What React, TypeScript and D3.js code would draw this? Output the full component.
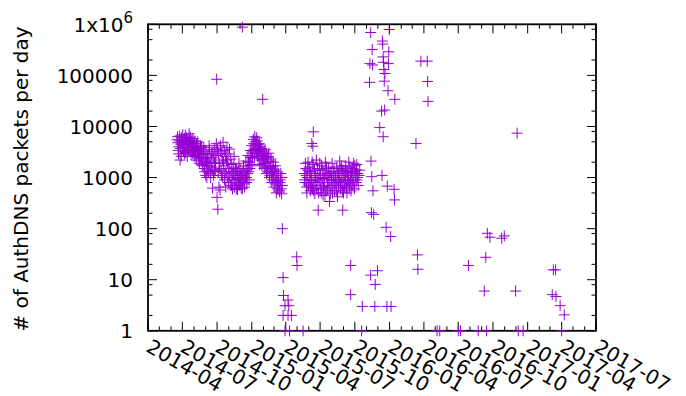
import React from "react";
import * as d3 from "d3";

const W = 686;
const H = 396;
const PLOT_LEFT = 148;
const PLOT_RIGHT = 596;
const PLOT_TOP = 24.3;
const PLOT_BOTTOM = 330.8;

const xDomain = ["2014-04-01", "2017-07-01"];
const xTickLabels = [
  "2014-04", "2014-07", "2014-10", "2015-01", "2015-04", "2015-07", "2015-10",
  "2016-01", "2016-04", "2016-07", "2016-10", "2017-01", "2017-04", "2017-07",
];
const yTickValues = [1, 10, 100, 1000, 10000, 100000, 1000000];
const yTickLabels = ["1", "10", "100", "1000", "10000", "100000", "1x10^6"];
const yMinorMultipliers = [2, 5, 8];
const yLabel = "# of AuthDNS packets per day";

// First dense period (2014-06 .. 2015-03)
const clusterA: [string, number][] = [
  ["2014-06-17", 5500], ["2014-06-19", 4800], ["2014-06-21", 2900], ["2014-06-23", 5200], ["2014-06-25", 2200], ["2014-06-27", 4500], ["2014-06-29", 6000],
  ["2014-07-01", 3800], ["2014-07-03", 5000], ["2014-07-05", 4200], ["2014-07-07", 2900], ["2014-07-09", 6800], ["2014-07-11", 4400], ["2014-07-13", 5300], ["2014-07-15", 3600],
  ["2014-07-17", 4800], ["2014-07-19", 7200], ["2014-07-21", 3900], ["2014-07-23", 5000], ["2014-07-25", 3300], ["2014-07-27", 4300], ["2014-07-29", 5800], ["2014-07-31", 3500],
  ["2014-08-02", 4100], ["2014-08-04", 2700], ["2014-08-06", 3800], ["2014-08-08", 4600], ["2014-08-10", 3000], ["2014-08-12", 3500], ["2014-08-14", 2400], ["2014-08-16", 3200],
  ["2014-08-18", 4200], ["2014-08-20", 2100], ["2014-08-22", 2800], ["2014-08-24", 1800], ["2014-08-26", 3300], ["2014-08-28", 1500], ["2014-08-30", 2500],
  ["2014-09-01", 1100], ["2014-09-03", 2000], ["2014-09-05", 1400], ["2014-09-07", 2800], ["2014-09-09", 1700], ["2014-09-11", 3500], ["2014-09-13", 1200], ["2014-09-15", 2200],
  ["2014-09-17", 1600], ["2014-09-19", 620], ["2014-09-21", 2500], ["2014-09-23", 1300], ["2014-09-25", 3800], ["2014-09-27", 1900], ["2014-09-29", 4600],
  ["2014-10-01", 410], ["2014-10-03", 240], ["2014-10-05", 2900], ["2014-10-07", 1500], ["2014-10-09", 570], ["2014-10-11", 3300], ["2014-10-13", 1100], ["2014-10-15", 2200],
  ["2014-10-17", 4900], ["2014-10-19", 1700], ["2014-10-21", 900], ["2014-10-23", 2600], ["2014-10-25", 1300], ["2014-10-27", 3900], ["2014-10-29", 1900], ["2014-10-31", 800],
  ["2014-11-02", 1500], ["2014-11-04", 1000], ["2014-11-06", 2300], ["2014-11-08", 700], ["2014-11-10", 1200], ["2014-11-12", 900], ["2014-11-14", 1600], ["2014-11-16", 650],
  ["2014-11-18", 1100], ["2014-11-20", 800], ["2014-11-22", 1400], ["2014-11-24", 580], ["2014-11-26", 950], ["2014-11-28", 1900], ["2014-11-30", 700],
  ["2014-12-02", 1000], ["2014-12-04", 620], ["2014-12-06", 1300], ["2014-12-08", 850], ["2014-12-10", 1700], ["2014-12-12", 750], ["2014-12-14", 1200], ["2014-12-16", 2100],
  ["2014-12-18", 1000], ["2014-12-20", 1500], ["2014-12-22", 2700], ["2014-12-24", 1300], ["2014-12-26", 2000], ["2014-12-28", 3400], ["2014-12-30", 1700],
  ["2015-01-01", 4200], ["2015-01-03", 2500], ["2015-01-05", 5600], ["2015-01-07", 3600], ["2015-01-09", 6300], ["2015-01-11", 4500], ["2015-01-13", 3000], ["2015-01-15", 5200],
  ["2015-01-17", 3800], ["2015-01-19", 2600], ["2015-01-21", 4600], ["2015-01-23", 3200], ["2015-01-25", 2200], ["2015-01-27", 3700], ["2015-01-29", 2700], ["2015-01-31", 1900],
  ["2015-02-02", 3300], ["2015-02-04", 2400], ["2015-02-06", 1600], ["2015-02-08", 2900], ["2015-02-10", 2000], ["2015-02-12", 1300], ["2015-02-14", 2600], ["2015-02-16", 1500],
  ["2015-02-18", 1100], ["2015-02-20", 2100], ["2015-02-22", 1300], ["2015-02-24", 900], ["2015-02-26", 1700], ["2015-02-28", 1000],
  ["2015-03-02", 1400], ["2015-03-04", 750], ["2015-03-06", 1200], ["2015-03-08", 850], ["2015-03-10", 600], ["2015-03-12", 1000], ["2015-03-14", 700], ["2015-03-16", 520],
  ["2015-03-18", 900], ["2015-03-20", 600], ["2015-03-22", 1000],
];

// Remaining days of the first dense period
const clusterAOddDays: [string, number][] = [
  ["2014-06-18", 6300], ["2014-06-20", 3400], ["2014-06-22", 4000], ["2014-06-24", 6500], ["2014-06-26", 3700], ["2014-06-28", 2600], ["2014-06-30", 5400],
  ["2014-07-02", 6900], ["2014-07-04", 3200], ["2014-07-06", 5600], ["2014-07-08", 4600], ["2014-07-10", 3100], ["2014-07-12", 6000], ["2014-07-14", 2600], ["2014-07-16", 5200],
  ["2014-07-18", 3400], ["2014-07-20", 4500], ["2014-07-22", 6200], ["2014-07-24", 2800], ["2014-07-26", 5400], ["2014-07-28", 3000], ["2014-07-30", 4700],
  ["2014-08-01", 2600], ["2014-08-03", 5200], ["2014-08-05", 3300], ["2014-08-07", 2200], ["2014-08-09", 3900], ["2014-08-11", 5000], ["2014-08-13", 2900], ["2014-08-15", 1900],
  ["2014-08-17", 3700], ["2014-08-19", 2500], ["2014-08-21", 4000], ["2014-08-23", 1700], ["2014-08-25", 2300], ["2014-08-27", 3900], ["2014-08-29", 1300], ["2014-08-31", 2000],
  ["2014-09-02", 3000], ["2014-09-04", 1000], ["2014-09-06", 2400], ["2014-09-08", 1300], ["2014-09-10", 4200], ["2014-09-12", 1900], ["2014-09-14", 1000], ["2014-09-16", 2900],
  ["2014-09-18", 1400], ["2014-09-20", 3200], ["2014-09-22", 1100], ["2014-09-24", 2000], ["2014-09-26", 1400], ["2014-09-28", 2700],
  ["2014-10-02", 3600], ["2014-10-04", 1300], ["2014-10-06", 650], ["2014-10-08", 1900], ["2014-10-10", 4200], ["2014-10-12", 1400], ["2014-10-14", 3000], ["2014-10-16", 1000],
  ["2014-10-18", 2000], ["2014-10-20", 3400], ["2014-10-22", 1200], ["2014-10-24", 650], ["2014-10-26", 2200], ["2014-10-28", 1000], ["2014-10-30", 2900],
  ["2014-11-01", 1200], ["2014-11-03", 3600], ["2014-11-05", 700], ["2014-11-07", 1300], ["2014-11-09", 1800], ["2014-11-11", 600], ["2014-11-13", 1200], ["2014-11-15", 2600],
  ["2014-11-17", 900], ["2014-11-19", 1500], ["2014-11-21", 600], ["2014-11-23", 1000], ["2014-11-25", 1300], ["2014-11-27", 750], ["2014-11-29", 1100],
  ["2014-12-01", 1500], ["2014-12-03", 800], ["2014-12-05", 1100], ["2014-12-07", 600], ["2014-12-09", 950], ["2014-12-11", 1300], ["2014-12-13", 650], ["2014-12-15", 1000],
  ["2014-12-17", 1400], ["2014-12-19", 800], ["2014-12-21", 1200], ["2014-12-23", 2000], ["2014-12-25", 900], ["2014-12-27", 1500], ["2014-12-29", 2500], ["2014-12-31", 3000],
  ["2015-01-02", 1800], ["2015-01-04", 3300], ["2015-01-06", 4600], ["2015-01-08", 2400], ["2015-01-10", 5000], ["2015-01-12", 3400], ["2015-01-14", 6000], ["2015-01-16", 2600],
  ["2015-01-18", 4400], ["2015-01-20", 3500], ["2015-01-22", 1800], ["2015-01-24", 4000], ["2015-01-26", 2900], ["2015-01-28", 1700], ["2015-01-30", 3000],
  ["2015-02-01", 2300], ["2015-02-03", 1500], ["2015-02-05", 3500], ["2015-02-07", 1900], ["2015-02-09", 1200], ["2015-02-11", 2500], ["2015-02-13", 1700], ["2015-02-15", 3000],
  ["2015-02-17", 1000], ["2015-02-19", 1600], ["2015-02-21", 2300], ["2015-02-23", 800], ["2015-02-25", 1300], ["2015-02-27", 2000],
  ["2015-03-01", 650], ["2015-03-03", 1100], ["2015-03-05", 1700], ["2015-03-07", 500], ["2015-03-09", 1300], ["2015-03-11", 800], ["2015-03-13", 1200], ["2015-03-15", 550],
  ["2015-03-17", 800], ["2015-03-19", 1200], ["2015-03-21", 480], ["2015-03-23", 700],
];

// Second dense period (2015-05 .. 2015-10)
const clusterC: [string, number][] = [
  ["2015-05-20", 1200], ["2015-05-22", 800], ["2015-05-24", 1500], ["2015-05-26", 650], ["2015-05-28", 1000], ["2015-05-30", 2000],
  ["2015-06-01", 700], ["2015-06-03", 1300], ["2015-06-05", 550], ["2015-06-07", 900], ["2015-06-09", 1100], ["2015-06-11", 600], ["2015-06-13", 1800], ["2015-06-15", 850],
  ["2015-06-17", 480], ["2015-06-19", 1200], ["2015-06-21", 2200], ["2015-06-23", 700], ["2015-06-25", 1000], ["2015-06-27", 500], ["2015-06-29", 1400],
  ["2015-07-01", 800], ["2015-07-03", 600], ["2015-07-05", 1700], ["2015-07-07", 950], ["2015-07-09", 450], ["2015-07-11", 1200], ["2015-07-13", 700], ["2015-07-15", 2000],
  ["2015-07-17", 550], ["2015-07-19", 1000], ["2015-07-21", 800], ["2015-07-23", 1500], ["2015-07-25", 650], ["2015-07-27", 1100], ["2015-07-29", 480], ["2015-07-31", 900],
  ["2015-08-02", 1900], ["2015-08-04", 700], ["2015-08-06", 1300], ["2015-08-08", 550], ["2015-08-10", 1000], ["2015-08-12", 750], ["2015-08-14", 1600], ["2015-08-16", 420],
  ["2015-08-18", 1200], ["2015-08-20", 850], ["2015-08-22", 2100], ["2015-08-24", 600], ["2015-08-26", 1000], ["2015-08-28", 700], ["2015-08-30", 1400],
  ["2015-09-01", 500], ["2015-09-03", 1100], ["2015-09-05", 800], ["2015-09-07", 1700], ["2015-09-09", 650], ["2015-09-11", 1300], ["2015-09-13", 900], ["2015-09-15", 2000],
  ["2015-09-17", 750], ["2015-09-19", 1200], ["2015-09-21", 550], ["2015-09-23", 1000], ["2015-09-25", 1500], ["2015-09-27", 800], ["2015-09-29", 1300],
  ["2015-10-01", 1700], ["2015-10-03", 1000], ["2015-10-05", 1400], ["2015-10-07", 900], ["2015-10-09", 1200], ["2015-10-12", 1100], ["2015-10-14", 1400],
];

// Remaining days of the second dense period
const clusterCOddDays: [string, number][] = [
  ["2015-05-21", 900], ["2015-05-23", 1900], ["2015-05-25", 1100], ["2015-05-27", 500], ["2015-05-29", 1400], ["2015-05-31", 750],
  ["2015-06-02", 1600], ["2015-06-04", 900], ["2015-06-06", 1300], ["2015-06-08", 650], ["2015-06-10", 2000], ["2015-06-14", 550], ["2015-06-16", 1400],
  ["2015-06-18", 800], ["2015-06-20", 1000], ["2015-06-22", 600], ["2015-06-24", 1500], ["2015-06-28", 900], ["2015-06-30", 1900],
  ["2015-07-02", 1100], ["2015-07-04", 500], ["2015-07-06", 800], ["2015-07-08", 1400], ["2015-07-10", 650], ["2015-07-12", 1000], ["2015-07-14", 450], ["2015-07-16", 1200],
  ["2015-07-18", 1600], ["2015-07-20", 600], ["2015-07-22", 1100], ["2015-07-24", 900], ["2015-07-28", 1300], ["2015-07-30", 700],
  ["2015-08-01", 1200], ["2015-08-03", 500], ["2015-08-05", 1000], ["2015-08-07", 1500], ["2015-08-09", 800], ["2015-08-11", 1100], ["2015-08-13", 550], ["2015-08-15", 900],
  ["2015-08-17", 1300], ["2015-08-19", 650], ["2015-08-21", 1000], ["2015-08-23", 1500], ["2015-08-25", 800], ["2015-08-27", 1700], ["2015-08-29", 550], ["2015-08-31", 900],
  ["2015-09-02", 1400], ["2015-09-04", 650], ["2015-09-06", 1000], ["2015-09-08", 1300], ["2015-09-10", 500], ["2015-09-12", 900], ["2015-09-14", 1100], ["2015-09-16", 600],
  ["2015-09-18", 1600], ["2015-09-20", 850], ["2015-09-22", 1300], ["2015-09-24", 700], ["2015-09-26", 1100], ["2015-09-28", 1900], ["2015-09-30", 600],
  ["2015-10-02", 1200], ["2015-10-04", 800], ["2015-10-06", 1800], ["2015-10-08", 1000], ["2015-10-10", 700],
];

// Isolated observations
const scattered: [string, number][] = [
  ["2014-09-30", 84000], ["2014-12-07", 880000], ["2015-01-30", 34000],
  ["2015-03-23", 100], ["2015-03-25", 11], ["2015-03-26", 4.9], ["2015-04-07", 4], ["2015-03-30", 3.1], ["2015-04-09", 3.1],
  ["2015-03-25", 2], ["2015-04-07", 2], ["2015-04-16", 2], ["2015-03-30", 1], ["2015-04-11", 1],
  ["2015-04-30", 28], ["2015-05-01", 19], ["2015-05-17", 1],
  ["2015-06-13", 7850], ["2015-06-09", 4650], ["2015-06-12", 4100],
  ["2015-06-26", 230], ["2015-07-26", 340], ["2015-08-30", 230],
  ["2015-09-20", 19], ["2015-09-20", 5.1],
  ["2015-10-19", 1], ["2015-10-21", 3], ["2015-11-23", 3], ["2015-12-25", 3], ["2016-01-05", 3],
  ["2015-11-12", 12.3], ["2015-11-30", 15], ["2015-11-24", 8.1],
  ["2015-11-14", 205], ["2015-11-20", 190], ["2015-12-23", 106], ["2016-01-04", 70],
  ["2016-03-15", 30.6], ["2016-03-16", 16], ["2016-03-11", 4650],
  ["2015-11-12", 690000], ["2015-12-31", 790000], ["2015-12-13", 470000], ["2015-12-14", 410000],
  ["2015-11-16", 320000], ["2015-12-30", 290000], ["2015-12-15", 230000], ["2015-11-10", 170000],
  ["2015-11-17", 160000], ["2015-12-16", 180000], ["2015-12-29", 170000], ["2015-12-17", 130000],
  ["2015-12-20", 109000], ["2015-11-09", 73000], ["2015-12-18", 77000], ["2015-12-28", 50000],
  ["2016-01-15", 34000], ["2015-12-11", 20000], ["2015-12-19", 21000], ["2015-12-06", 9500], ["2015-12-15", 6300],
  ["2016-03-24", 190000], ["2016-04-10", 190000], ["2016-04-11", 76000], ["2016-04-12", 31000],
  ["2015-11-13", 2100], ["2015-11-15", 1040], ["2015-12-12", 1100], ["2015-11-18", 550],
  ["2015-12-26", 680], ["2016-01-13", 590], ["2016-01-14", 365],
  ["2016-05-06", 1], ["2016-05-13", 1], ["2016-07-01", 1], ["2016-07-07", 1], ["2016-08-23", 1],
  ["2016-09-14", 1], ["2016-12-07", 1], ["2016-12-20", 1], ["2017-04-01", 1],
  ["2016-09-16", 81], ["2016-09-23", 68], ["2016-10-24", 65], ["2016-10-31", 72],
  ["2016-07-28", 19], ["2016-09-12", 27.5], ["2016-09-08", 6], ["2016-11-30", 6], ["2016-12-04", 7400],
  ["2017-03-10", 15.6], ["2017-03-16", 15.6], ["2017-03-07", 5.1], ["2017-03-17", 4.7],
  ["2017-03-28", 3.1], ["2017-04-08", 2.05],
];

const parse = d3.utcParse("%Y-%m-%d");
const parseMonth = d3.utcParse("%Y-%m");

export default function App() {
  const x = d3
    .scaleUtc()
    .domain(xDomain.map((d) => parse(d) as Date))
    .range([PLOT_LEFT, PLOT_RIGHT]);
  const y = d3.scaleLog().domain([1, 1e6]).range([PLOT_BOTTOM, PLOT_TOP]);

  const majorDates = xTickLabels.map((l) => parseMonth(l) as Date);
  const allMonths = d3.utcMonth.range(x.domain()[0], d3.utcDay.offset(x.domain()[1], 1));
  const minorDates = allMonths.filter((d) => d.getUTCMonth() % 3 !== 0);

  const minorY: number[] = [];
  for (let k = 0; k < 6; k++) {
    for (const m of yMinorMultipliers) minorY.push(m * Math.pow(10, k));
  }

  const points = [...clusterA, ...clusterAOddDays, ...clusterC, ...clusterCOddDays, ...scattered];
  const s = 5.5;
  const markerPath = points
    .map(([d, v]) => {
      const px = x(parse(d) as Date);
      const py = y(v);
      return `M${px - s},${py}H${px + s}M${px},${py - s}V${py + s}`;
    })
    .join("");

  const MAJ = 9;
  const MIN = 4.5;
  const font = "'DejaVu Sans', sans-serif";

  return (
    <svg
      width={W}
      height={H}
      style={{ position: "absolute", left: 0, top: 0, background: "#fff" }}
      fontFamily={font}
    >
      <rect x={0} y={0} width={W} height={H} fill="#fff" />
      <g stroke="#000" strokeWidth={1}>
        {majorDates.map((d, i) => {
          const px = x(d);
          return (
            <g key={"mx" + i}>
              <line x1={px} x2={px} y1={PLOT_BOTTOM} y2={PLOT_BOTTOM - MAJ} />
              <line x1={px} x2={px} y1={PLOT_TOP} y2={PLOT_TOP + MAJ} />
            </g>
          );
        })}
        {minorDates.map((d, i) => {
          const px = x(d);
          return (
            <g key={"nx" + i}>
              <line x1={px} x2={px} y1={PLOT_BOTTOM} y2={PLOT_BOTTOM - MIN} />
              <line x1={px} x2={px} y1={PLOT_TOP} y2={PLOT_TOP + MIN} />
            </g>
          );
        })}
        {yTickValues.map((v, i) => {
          const py = y(v);
          return (
            <g key={"my" + i}>
              <line x1={PLOT_LEFT} x2={PLOT_LEFT + MAJ} y1={py} y2={py} />
              <line x1={PLOT_RIGHT} x2={PLOT_RIGHT - MAJ} y1={py} y2={py} />
            </g>
          );
        })}
        {minorY.map((v, i) => {
          const py = y(v);
          return (
            <g key={"ny" + i}>
              <line x1={PLOT_LEFT} x2={PLOT_LEFT + MIN} y1={py} y2={py} />
              <line x1={PLOT_RIGHT} x2={PLOT_RIGHT - MIN} y1={py} y2={py} />
            </g>
          );
        })}
      </g>
      <rect
        x={PLOT_LEFT}
        y={PLOT_TOP}
        width={PLOT_RIGHT - PLOT_LEFT}
        height={PLOT_BOTTOM - PLOT_TOP}
        fill="none"
        stroke="#000"
        strokeWidth={1.8}
      />
      <g fontSize={20} fill="#000" textAnchor="end">
        {yTickValues.map((v, i) => {
          const label = yTickLabels[i];
          const py = y(v) + 7.5;
          if (label.includes("^")) {
            const [base, exp] = label.split("^");
            return (
              <text key={"yl" + i} x={133} y={py}>
                {base}
                <tspan fontSize={15} dy={-9}>
                  {exp}
                </tspan>
              </text>
            );
          }
          return (
            <text key={"yl" + i} x={133} y={py}>
              {label}
            </text>
          );
        })}
      </g>
      <g fontSize={20} fill="#000">
        {majorDates.map((d, i) => (
          <text
            key={"xl" + i}
            transform={`translate(${x(d) - 3},${PLOT_BOTTOM + 20}) rotate(30)`}
          >
            {xTickLabels[i]}
          </text>
        ))}
      </g>
      <text
        fontSize={20}
        fill="#000"
        textAnchor="middle"
        transform={`translate(28.3,179) rotate(-90)`}
      >
        {yLabel}
      </text>
      <path d={markerPath} fill="none" stroke="#9400d3" strokeWidth={1} />
    </svg>
  );
}
